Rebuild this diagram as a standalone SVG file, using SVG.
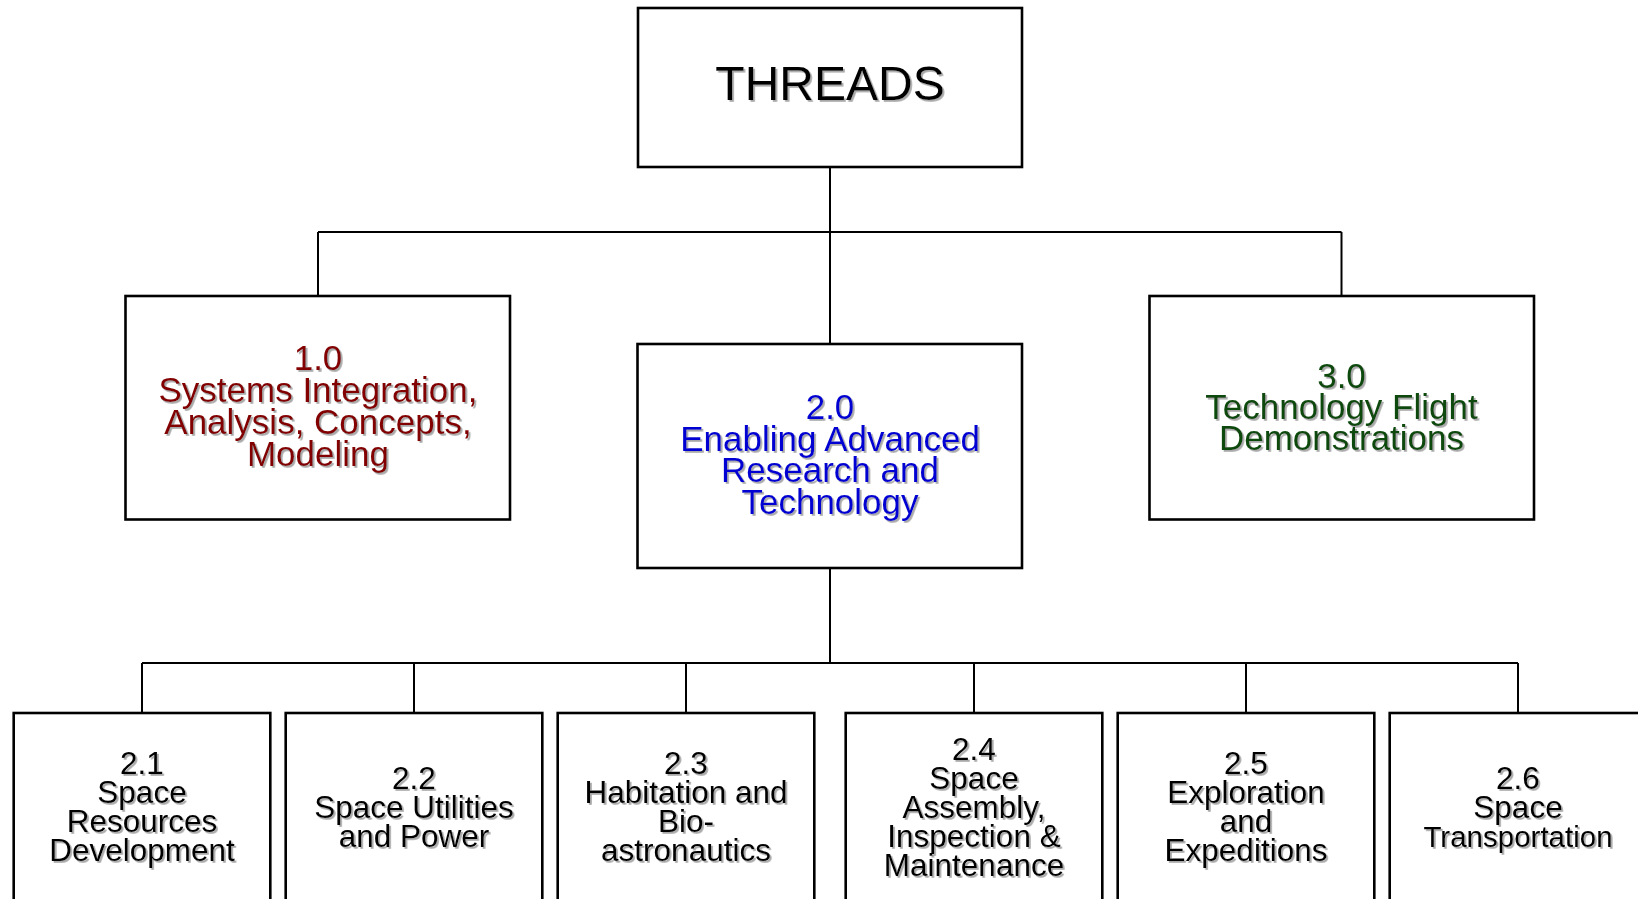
<svg xmlns="http://www.w3.org/2000/svg" width="1638" height="899" viewBox="0 0 1638 899">
  <defs>
    <filter id="txtShadow" x="-10%" y="-10%" width="120%" height="130%">
      <feDropShadow dx="1.8" dy="1.8" stdDeviation="0.6" flood-color="#8a8a8a" flood-opacity="0.75"/>
    </filter>
  </defs>
  <style>
    .box { fill: #ffffff; stroke: #000000; stroke-width: 2.6; }
    .wire { fill: none; stroke: #000000; stroke-width: 2; }
    text { font-family: "Liberation Sans", Arial, sans-serif; text-anchor: middle; filter: url(#txtShadow); }
    .top { font-size: 48px; fill: #000000; }
    .big { font-size: 35px; }
    .small { font-size: 31.5px; fill: #000000; }
    .red { fill: #820000; }
    .blue { fill: #0000d2; }
    .green { fill: #0a4a0a; }
  </style>
  <rect width="1638" height="899" fill="#ffffff"/>

  <!-- tree connectors -->
  <g id="connectors">
    <line class="wire" x1="830" y1="167" x2="830" y2="344"/>
    <line class="wire" x1="318" y1="232" x2="1341.5" y2="232"/>
    <line class="wire" x1="318" y1="232" x2="318" y2="296"/>
    <line class="wire" x1="1341.5" y1="232" x2="1341.5" y2="296"/>
    <line class="wire" x1="830" y1="568" x2="830" y2="663"/>
    <line class="wire" x1="142" y1="663" x2="1518" y2="663"/>
    <line class="wire" x1="142" y1="663" x2="142" y2="713"/>
    <line class="wire" x1="414" y1="663" x2="414" y2="713"/>
    <line class="wire" x1="686" y1="663" x2="686" y2="713"/>
    <line class="wire" x1="974" y1="663" x2="974" y2="713"/>
    <line class="wire" x1="1246" y1="663" x2="1246" y2="713"/>
    <line class="wire" x1="1518" y1="663" x2="1518" y2="713"/>
  </g>

  <g id="threads">
    <rect class="box" x="638" y="8" width="384" height="159"/>
    <text class="top" x="830" y="100">THREADS</text>
  </g>

  <g id="n1-0">
    <rect class="box" x="125.5" y="296" width="384.5" height="223.5"/>
    <text class="big red" x="318" y="370">1.0</text>
    <text class="big red" x="318" y="402">Systems Integration,</text>
    <text class="big red" x="318" y="434">Analysis, Concepts,</text>
    <text class="big red" x="318" y="466">Modeling</text>
  </g>

  <g id="n2-0">
    <rect class="box" x="637.5" y="344" width="384.5" height="224"/>
    <text class="big blue" x="830" y="418.5">2.0</text>
    <text class="big blue" x="830" y="450.5">Enabling Advanced</text>
    <text class="big blue" x="830" y="482">Research and</text>
    <text class="big blue" x="830" y="513.5">Technology</text>
  </g>

  <g id="n3-0">
    <rect class="box" x="1149.5" y="296" width="384.5" height="223.5"/>
    <text class="big green" x="1341.5" y="387.5">3.0</text>
    <text class="big green" x="1341.5" y="419">Technology Flight</text>
    <text class="big green" x="1341.5" y="450">Demonstrations</text>
  </g>

  <g id="n2-1">
    <rect class="box" x="13.7" y="713" width="256.6" height="210"/>
    <text class="small" x="142" y="774">2.1</text>
    <text class="small" x="142" y="803">Space</text>
    <text class="small" x="142" y="832">Resources</text>
    <text class="small" x="142" y="861">Development</text>
  </g>

  <g id="n2-2">
    <rect class="box" x="285.7" y="713" width="256.6" height="210"/>
    <text class="small" x="414" y="788.5">2.2</text>
    <text class="small" x="414" y="817.5">Space Utilities</text>
    <text class="small" x="414" y="846.5">and Power</text>
  </g>

  <g id="n2-3">
    <rect class="box" x="557.7" y="713" width="256.6" height="210"/>
    <text class="small" x="686" y="774">2.3</text>
    <text class="small" x="686" y="803">Habitation and</text>
    <text class="small" x="686" y="832">Bio-</text>
    <text class="small" x="686" y="861">astronautics</text>
  </g>

  <g id="n2-4">
    <rect class="box" x="845.7" y="713" width="256.6" height="210"/>
    <text class="small" x="974" y="759.5">2.4</text>
    <text class="small" x="974" y="788.5">Space</text>
    <text class="small" x="974" y="817.5">Assembly,</text>
    <text class="small" x="974" y="846.5">Inspection &amp;</text>
    <text class="small" x="974" y="875.5">Maintenance</text>
  </g>

  <g id="n2-5">
    <rect class="box" x="1117.7" y="713" width="256.6" height="210"/>
    <text class="small" x="1246" y="774">2.5</text>
    <text class="small" x="1246" y="803">Exploration</text>
    <text class="small" x="1246" y="832">and</text>
    <text class="small" x="1246" y="861">Expeditions</text>
  </g>

  <g id="n2-6">
    <rect class="box" x="1389.7" y="713" width="256.6" height="210"/>
    <text class="small" x="1518" y="788.5">2.6</text>
    <text class="small" x="1518" y="817.5">Space</text>
    <text class="small" x="1518" y="846.5" style="font-size:29.5px">Transportation</text>
  </g>
</svg>
